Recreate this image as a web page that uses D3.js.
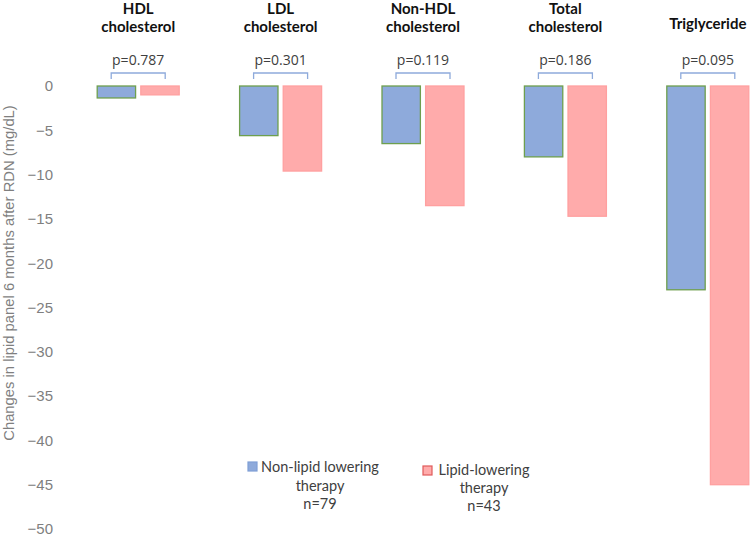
<!DOCTYPE html>
<html><head><meta charset="utf-8">
<script src="https://cdn.jsdelivr.net/npm/d3@7"></script>
<style>body{margin:0;background:#fff}</style>
</head><body>
<svg id="c" width="751" height="537"></svg>
<script>
const categories = ["HDL|cholesterol","LDL|cholesterol","Non-HDL|cholesterol","Total|cholesterol","Triglyceride"];
const seriesNames = ["Non-lipid lowering therapy n=79","Lipid-lowering therapy n=43"];
const nonLipid = [-1.35, -5.6, -6.5, -8.0, -23.0];
const lipid = [-1.0, -9.6, -13.5, -14.7, -45.0];
const pValues = ["p=0.787","p=0.301","p=0.119","p=0.186","p=0.095"];
const yTicks = [0,-5,-10,-15,-20,-25,-30,-35,-40,-45,-50];

const svg = d3.select("#c");
const y = d3.scaleLinear().domain([0,-50]).range([86,529]);
const x = d3.scaleBand().domain(categories).range([67,779]).padding(0);
const xi = d3.scaleBand().domain([0,1]).range([-41,41]).paddingInner(0.12);
const fills = ["#8eaadb","#ffabab"];
const strokes = ["#6e9f4e","#ffa0a0"];

// y axis
const yAxis = d3.axisLeft(y).tickValues(yTicks).tickSize(0).tickPadding(0).tickFormat(d3.format("d"));
const ga = svg.append("g").attr("transform","translate(53,0)").call(yAxis);
ga.select(".domain").remove();
ga.selectAll("text").attr("font-family","Liberation Sans, Arial, sans-serif").attr("font-size",15).attr("fill","#7f7f7f");

svg.append("text").attr("transform","translate(14,273) rotate(-90)")
  .attr("text-anchor","middle").attr("font-family","Liberation Sans, Arial, sans-serif").attr("font-size",14.8)
  .attr("fill","#7f7f7f").text("Changes in lipid panel 6 months after RDN (mg/dL)");

const groups = svg.selectAll("g.grp").data(categories).join("g").attr("class","grp")
  .attr("transform", d => `translate(${x(d)+x.bandwidth()/2},0)`);

[nonLipid, lipid].forEach((vals, si) => {
  groups.append("rect")
    .attr("x", xi(si)).attr("width", xi.bandwidth())
    .attr("y", (d,i) => y(0)).attr("height", (d,i) => y(vals[i]) - y(0))
    .attr("fill", fills[si]).attr("stroke", strokes[si]).attr("stroke-width",1.3);
});

// titles
groups.each(function(d){
  const lines = d.split("|");
  const g = d3.select(this);
  const t = g.append("text").attr("text-anchor","middle").attr("font-family","Lato, sans-serif")
    .attr("font-weight","bold").attr("font-size",15).attr("fill","#111");
  const startY = lines.length === 1 ? 29 : 14;
  lines.forEach((l,k) => t.append("tspan").attr("x",0).attr("y",startY + k*17.5).text(l));
});

// p-values and brackets
groups.append("text").attr("text-anchor","middle").attr("y",65).attr("font-family","Open Sans, sans-serif")
  .attr("font-size",14).attr("fill","#404040").text((d,i) => pValues[i]);
groups.append("path").attr("d","M-27,79V73H27V79").attr("fill","none").attr("stroke","#8eaadb").attr("stroke-width",1.3);

// legend
const legend = [
  {sx:248, sy:462, cx:320, lines:["Non-lipid lowering","therapy","n=79"], ys:[472,491,509], fill:fills[0], stroke:"#7f9fd6"},
  {sx:423, sy:466, cx:484, lines:["Lipid-lowering","therapy","n=43"], ys:[475,493,511], fill:fills[1], stroke:"#e05a5a"}
];
legend.forEach((L, li) => {
  svg.append("rect").attr("x",L.sx).attr("y",L.sy).attr("width",9).attr("height",9)
    .attr("fill",L.fill).attr("stroke",L.stroke).attr("stroke-width",1.2);
  const t = svg.append("text").attr("font-family","Lato, sans-serif").attr("font-size",14.5).attr("fill","#404040").attr("text-anchor","middle");
  L.lines.forEach((l,k) => t.append("tspan").attr("x",L.cx).attr("y",L.ys[k]).text(l));
});
</script>
</body></html>
